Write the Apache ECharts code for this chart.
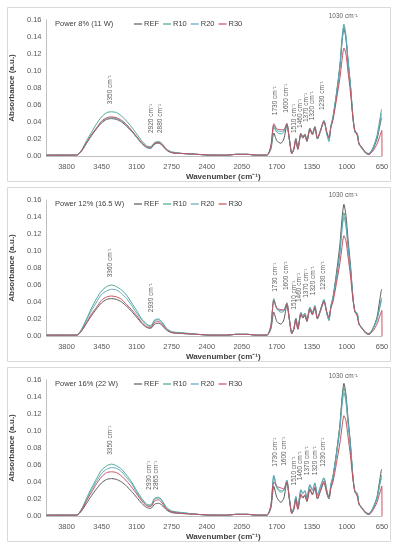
<!DOCTYPE html>
<html><head><meta charset="utf-8">
<script src="https://cdn.jsdelivr.net/npm/echarts@6/dist/echarts.min.js"></script>
<style>html,body{margin:0;padding:0;background:#fff}#c{width:397px;height:550px}</style>
</head><body><div id="c"></div>
<script>
// ---------- data ----------
const wavenumbers = [4000,3800,3700,3650,3600,3550,3500,3450,3400,3350,3300,3250,3200,3150,3100,3050,3000,2960,2920,2880,2850,2800,2750,2650,2500,2350,2200,2100,2000,1900,1800,
  1760,1730,1700,1660,1630,1600,1575,1550,1530,1510,1490,1460,1440,1420,1400,1370,1345,1320,1295,1265,1230,1200,1180,1160,1140,1105,1070,1050,1030,1010,990,965,940,920,897,880,850,810,780,740,700,670,652,650];
const xTickLabels = [3800,3450,3100,2750,2400,2050,1700,1350,1000,650];
const yTicks = [0,0.02,0.04,0.06,0.08,0.10,0.12,0.14,0.16];
const seriesNames = ['REF','R10','R20','R30'];
const panelTitles = ['Power 8% (11 W)','Power 12% (16.5 W)','Power 16% (22 W)'];

// Panel 1 (8 %)
const p1REF = [.001,.001,.001,.006,.015,.024,.032,.039,.043,.044,.043,.040,.035,.029,.022,.015,.010,.009,.014,.015,.013,.007,.004,.003,.002,.001,.001,.002,.002,.001,.001,
  .008,.027,.018,.015,.020,.036,.019,.003,.008,.019,.008,.025,.021,.024,.017,.031,.025,.033,.020,.029,.040,.027,.021,.034,.044,.072,.105,.133,.150,.138,.112,.082,.045,.028,.026,.014,.009,.003,.002,.008,.020,.036,.045,.045];
const p1R10 = [.001,.001,.001,.007,.018,.028,.038,.046,.051,.052,.051,.047,.041,.034,.026,.018,.012,.011,.016,.017,.015,.008,.005,.003,.002,.001,.001,.002,.002,.001,.001,
  .010,.034,.028,.026,.028,.038,.020,.003,.009,.021,.009,.027,.023,.026,.018,.033,.027,.035,.020,.029,.042,.025,.017,.036,.046,.074,.108,.138,.155,.142,.115,.084,.046,.029,.027,.015,.010,.004,.003,.010,.024,.044,.055,.055];
const p1R20 = [.001,.001,.001,.006,.015,.025,.033,.040,.044,.045,.044,.041,.036,.030,.022,.015,.010,.009,.015,.016,.014,.007,.004,.003,.002,.001,.001,.002,.002,.001,.001,
  .011,.036,.030,.029,.030,.038,.020,.003,.008,.020,.008,.026,.022,.025,.018,.032,.026,.034,.021,.030,.041,.026,.019,.035,.045,.072,.105,.134,.151,.139,.112,.082,.045,.028,.026,.014,.009,.003,.002,.009,.022,.040,.050,.050];
const p1R30 = [.001,.001,.001,.006,.016,.025,.033,.041,.045,.046,.045,.042,.037,.030,.023,.016,.011,.010,.015,.016,.014,.007,.004,.003,.002,.001,.001,.002,.002,.001,.001,
  .012,.038,.032,.031,.031,.038,.020,.003,.008,.020,.008,.026,.022,.025,.018,.032,.026,.034,.021,.030,.041,.028,.022,.034,.042,.066,.092,.112,.127,.120,.100,.075,.045,.030,.024,.015,.010,.004,.002,.006,.014,.024,.030,0];

// Panel 2 (12 %)
const p2REF = [.001,.001,.001,.006,.015,.024,.032,.039,.043,.044,.043,.040,.035,.029,.022,.015,.010,.009,.014,.015,.013,.007,.004,.003,.002,.001,.001,.002,.002,.001,.001,
  .008,.028,.017,.014,.019,.036,.019,.003,.008,.019,.008,.025,.021,.024,.017,.031,.025,.033,.020,.029,.040,.027,.021,.034,.045,.074,.108,.137,.155,.142,.115,.084,.046,.028,.026,.014,.009,.003,.002,.009,.022,.044,.055,.055];
const p2R10 = [.001,.001,.001,.008,.020,.033,.044,.053,.058,.060,.058,.054,.048,.039,.030,.020,.014,.012,.019,.020,.017,.009,.005,.004,.002,.001,.001,.002,.002,.001,.001,
  .012,.044,.032,.028,.029,.039,.020,.003,.009,.021,.009,.028,.024,.027,.019,.034,.028,.036,.021,.031,.043,.026,.018,.036,.045,.070,.100,.128,.145,.133,.108,.080,.045,.029,.027,.015,.010,.004,.003,.009,.020,.036,.045,.045];
const p2R20 = [.001,.001,.001,.007,.019,.030,.040,.049,.053,.055,.054,.050,.044,.036,.027,.019,.013,.011,.018,.019,.016,.008,.005,.003,.002,.001,.001,.002,.002,.001,.001,
  .011,.042,.032,.030,.030,.039,.020,.003,.009,.021,.009,.027,.023,.026,.018,.033,.027,.035,.021,.030,.042,.026,.019,.035,.044,.068,.097,.124,.140,.129,.105,.078,.044,.028,.026,.014,.009,.003,.002,.008,.019,.034,.042,.042];
const p2R30 = [.001,.001,.001,.006,.016,.026,.034,.042,.046,.047,.046,.043,.037,.031,.024,.016,.011,.010,.016,.017,.014,.007,.004,.003,.002,.001,.001,.002,.002,.001,.001,
  .012,.042,.033,.031,.031,.038,.020,.003,.008,.020,.008,.026,.022,.025,.018,.032,.026,.034,.021,.030,.041,.028,.022,.033,.040,.062,.086,.104,.118,.112,.094,.071,.043,.029,.023,.014,.009,.004,.002,.006,.014,.024,.030,0];

// Panel 3 (16 %)
const p3REF = [.001,.001,.001,.006,.015,.024,.032,.039,.043,.044,.043,.040,.035,.029,.022,.015,.010,.009,.014,.015,.013,.007,.004,.003,.002,.001,.001,.002,.002,.001,.001,
  .009,.035,.022,.016,.021,.040,.020,.003,.008,.019,.008,.025,.021,.024,.017,.031,.025,.033,.020,.029,.039,.026,.020,.034,.045,.074,.108,.138,.156,.143,.116,.085,.046,.028,.026,.014,.009,.003,.002,.009,.022,.044,.055,.055];
const p3R10 = [.001,.001,.001,.008,.021,.033,.044,.054,.059,.061,.059,.055,.048,.040,.030,.021,.014,.013,.021,.022,.019,.010,.006,.004,.002,.001,.001,.002,.002,.001,.001,
  .012,.047,.033,.028,.030,.042,.021,.004,.010,.023,.011,.031,.027,.030,.022,.037,.031,.039,.025,.035,.045,.030,.021,.038,.047,.074,.106,.134,.151,.139,.113,.083,.046,.029,.027,.015,.010,.004,.003,.010,.022,.040,.048,.048];
const p3R20 = [.001,.001,.001,.008,.019,.031,.041,.050,.055,.057,.056,.052,.045,.038,.028,.019,.013,.012,.020,.021,.018,.009,.005,.004,.002,.001,.001,.002,.002,.001,.001,
  .012,.048,.034,.030,.031,.042,.021,.004,.010,.022,.010,.030,.026,.029,.021,.036,.030,.038,.024,.034,.044,.029,.020,.037,.046,.071,.102,.129,.145,.134,.109,.080,.045,.028,.026,.014,.009,.003,.002,.009,.020,.037,.045,.045];
const p3R30 = [.001,.001,.001,.007,.018,.028,.038,.046,.051,.052,.051,.047,.041,.034,.026,.018,.012,.011,.018,.019,.016,.008,.005,.003,.002,.001,.001,.002,.002,.001,.001,
  .012,.040,.035,.033,.032,.040,.020,.003,.008,.020,.008,.026,.022,.025,.018,.032,.026,.034,.021,.030,.041,.028,.022,.033,.040,.062,.086,.104,.118,.112,.094,.071,.043,.029,.023,.014,.009,.004,.002,.007,.016,.028,.035,0];

// Peak annotations: [text, wavenumber anchor, absorbance anchor (text base), rotated]
const p1Notes = [['3350 cm⁻¹',3365,.061,1],['2920 cm⁻¹',2950,.027,1],['2880 cm⁻¹',2860,.027,1],['1730 cm⁻¹',1721,.048,1],['1600 cm⁻¹',1602,.051,1],
  ['1510 cm⁻¹',1522,.027,1],['1460 cm⁻¹',1463,.033,1],['1370 cm⁻¹',1404,.040,1],['1320 cm⁻¹',1344,.042,1],['1230 cm⁻¹',1245,.054,1],['1030 cm⁻¹',1037,.165,0]];
const p2Notes = [['3360 cm⁻¹',3365,.069,1],['2930 cm⁻¹',2950,.028,1],['1730 cm⁻¹',1721,.052,1],['1600 cm⁻¹',1602,.054,1],
  ['1510 cm⁻¹',1522,.031,1],['1460 cm⁻¹',1473,.040,1],['1370 cm⁻¹',1404,.045,1],['1320 cm⁻¹',1334,.048,1],['1230 cm⁻¹',1235,.054,1],['1030 cm⁻¹',1037,.166,0]];
const p3Notes = [['3350 cm⁻¹',3365,.072,1],['2930 cm⁻¹',2979,.031,1],['2865 cm⁻¹',2900,.031,1],['1730 cm⁻¹',1721,.058,1],['1600 cm⁻¹',1622,.059,1],
  ['1510 cm⁻¹',1522,.036,1],['1460 cm⁻¹',1463,.042,1],['1370 cm⁻¹',1394,.048,1],['1320 cm⁻¹',1314,.048,1],['1230 cm⁻¹',1235,.058,1],['1030 cm⁻¹',1037,.165,0]];

// ---------- chart ----------
const panels = [[p1REF,p1R10,p1R20,p1R30],[p2REF,p2R10,p2R20,p2R30],[p3REF,p3R10,p3R20,p3R30]];
const notes = [p1Notes,p2Notes,p3Notes];
const colors = ['#5a5a5a','#4aa892','#62a6bf','#c4505e'];
const FONT = 'Liberation Sans, Arial, sans-serif';
const PANEL_STEP = 180;

const grids = [], xAxes = [], yAxes = [], series = [], titles = [], legends = [], graphics = [];
panels.forEach((vals, p) => {
  const off = p * PANEL_STEP;
  grids.push({left: 44, width: 338, top: 20 + off, height: 136});
  graphics.push({type: 'rect', shape: {x: 7.5, y: 7.5 + off, width: 383, height: 174},
    style: {fill: 'none', stroke: '#d9d9d9', lineWidth: 1}, silent: true, z: -1});
  xAxes.push({type: 'value', gridIndex: p, min: 650, max: 4000, inverse: true,
    axisLine: {show: true, lineStyle: {color: '#bfbfbf', width: 1}}, axisTick: {show: false}, splitLine: {show: false},
    axisLabel: {customValues: xTickLabels, fontSize: 7.5, color: '#595959', fontFamily: FONT, margin: 7, formatter: v => String(v)},
    name: 'Wavenumber (cm⁻¹)', nameLocation: 'middle', nameGap: 17,
    nameTextStyle: {fontSize: 8, fontWeight: 'bold', color: '#404040', fontFamily: FONT, padding: [0, 0, 0, 18]}});
  yAxes.push({type: 'value', gridIndex: p, min: 0, max: 0.16, interval: 0.02,
    axisLine: {show: true, lineStyle: {color: '#bfbfbf', width: 1}}, axisTick: {show: false}, splitLine: {show: false},
    axisLabel: {customValues: yTicks, fontSize: 7.5, color: '#595959', fontFamily: FONT, margin: 5, formatter: v => v.toFixed(2)},
    name: 'Absorbance (a.u.)', nameLocation: 'middle', nameGap: 24, nameRotate: 90,
    nameTextStyle: {fontSize: 8, fontWeight: 'bold', color: '#404040', fontFamily: FONT}});
  titles.push({text: panelTitles[p], left: 55, top: 20 + off, padding: 0,
    textStyle: {fontSize: 7.5, fontWeight: 'normal', color: '#404040', fontFamily: FONT}});
  legends.push({data: seriesNames, left: 134, top: 20 + off, padding: 0, icon: 'rect', itemWidth: 8, itemHeight: 1.2, itemGap: 4,
    selectedMode: false, textStyle: {fontSize: 7.5, color: '#404040', fontFamily: FONT, padding: [0, 0, 0, -3]}});
  vals.forEach((arr, s) => {
    series.push({type: 'line', name: seriesNames[s], xAxisIndex: p, yAxisIndex: p, color: colors[s],
      data: wavenumbers.map((w, i) => [w, arr[i]]), showSymbol: false, symbol: 'none', smooth: 0.25,
      lineStyle: {width: 1, color: colors[s]}, silent: true, animation: false});
  });
  series.push({type: 'scatter', name: 'notes' + p, xAxisIndex: p, yAxisIndex: p, symbolSize: 1, clip: false,
    itemStyle: {color: 'rgba(0,0,0,0)'}, silent: true, animation: false, z: 5,
    data: notes[p].map(n => ({value: [n[1], n[2]], label: n[3] ?
      {show: true, formatter: n[0], rotate: 90, position: 'inside', align: 'left', verticalAlign: 'middle'} :
      {show: true, formatter: n[0], rotate: 0, position: 'inside', align: 'center', verticalAlign: 'middle'}})),
    label: {show: true, fontSize: 6.5, color: '#333333', fontFamily: FONT}});
});

const chart = echarts.init(document.getElementById('c'), null, {renderer: 'canvas'});
chart.setOption({
  backgroundColor: '#ffffff', animation: false,
  title: titles, legend: legends, grid: grids, xAxis: xAxes, yAxis: yAxes, series: series, graphic: graphics
});
</script></body></html>
